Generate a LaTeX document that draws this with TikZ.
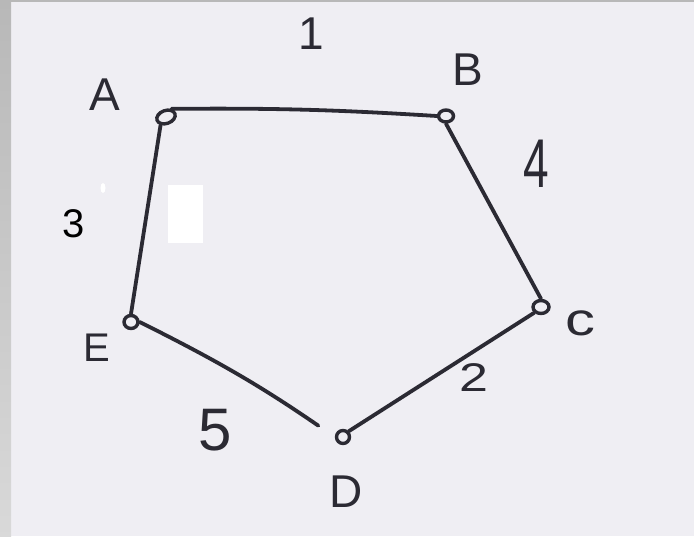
\documentclass[tikz,border=0pt]{standalone}
\usepackage{fontspec}
\setmainfont{Liberation Sans}
\usetikzlibrary{shapes.geometric}
\definecolor{paper}{HTML}{EFEEF3}
\definecolor{ink}{HTML}{2B2A33}
\definecolor{frameg}{HTML}{B8B8B8}
\begin{document}
\begin{tikzpicture}[x=1pt,y=-1pt,
  vert/.style={draw=ink,line width=3.4pt,ellipse,inner sep=0pt,minimum width=15pt,minimum height=12pt},
  edge/.style={draw=ink,line width=3.8pt,line cap=round},
  hand/.style={text=ink,font=\fontsize{46}{46}\selectfont,inner sep=0pt}]
\useasboundingbox (0,0) rectangle (694,536);
\fill[paper] (0,0) rectangle (694,536);
\shade[top color=frameg,bottom color=gray!30] (0,0) rectangle (11,536);
\fill[frameg] (0,0) rectangle (694,2);
\fill[white] (168,185) rectangle (203,243);
\fill[white] (103,188) ellipse (2.5 and 5);
% vertices
\node[vert,minimum width=19pt,minimum height=13pt,rotate=20] (A) at (166,117) {};
\node[vert] (B) at (446,116) {};
\node[vert,minimum width=16pt,minimum height=13pt] (C) at (541,307) {};
\node[vert,minimum width=13pt,minimum height=13pt] (D) at (343,437) {};
\node[vert,minimum width=14pt,minimum height=13pt] (E) at (131,322) {};
% edges
\draw[edge] (A.north east) to[bend left=2] (B.west);
\draw[edge] (B.south) -- (C.north);
\draw[edge] (C.south west) -- (D.north east);
\draw[edge,shorten >=20pt] (E.east) to[bend left=4] (D.west);
\draw[edge] (E.north) -- (A.south west);
% labels
\node[hand] (lA) at (105,95) {A};
\node[hand] (lB) at (468,70) {B};
\node[hand,xscale=1.3] (lC) at (580,323) {c};
\node[hand] (lD) at (346,492) {D};
\node[hand,font=\fontsize{40}{40}\selectfont] (lE) at (97,348) {E};
\node[hand] (l1) at (311,34) {1};
\node[hand,yscale=1.5] (l4) at (536,164) {4};
\node[hand,font=\fontsize{40}{40}\selectfont,xscale=1.3] (l2) at (474,378) {2};
\node[hand,font=\fontsize{60}{60}\selectfont] (l5) at (215,430) {5};
\node[text=black,font=\fontsize{40}{40}\selectfont,inner sep=0pt] (l3) at (74,224) {3};
\end{tikzpicture}
\end{document}
